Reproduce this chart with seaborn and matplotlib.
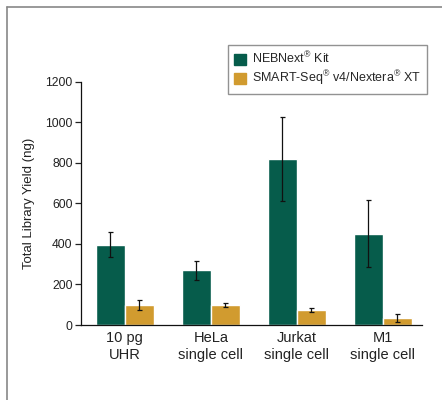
import pandas as pd
import matplotlib
matplotlib.use('Agg')
import matplotlib.pyplot as plt
import seaborn as sns
from matplotlib.lines import Line2D

# ============================================================
# DATA
# ============================================================

categories = ['10 pg\nUHR', 'HeLa\nsingle cell', 'Jurkat\nsingle cell', 'M1\nsingle cell']
kits = ['NEBNext$^{®}$ Kit', 'SMART-Seq$^{®}$ v4/Nextera$^{®}$ XT']

neb_yield = [395, 270, 820, 450]
neb_err = [62, 46, 207, 165]

smart_yield = [100, 98, 74, 35]
smart_err = [25, 11, 8, 19]

colors = ['#065c4b', '#d19b2f']

# ============================================================
# PLOT
# ============================================================

sns.set_style('ticks')
plt.rcParams['font.family'] = ['Liberation Sans', 'DejaVu Sans']
plt.rcParams['mathtext.fontset'] = 'custom'
plt.rcParams['mathtext.rm'] = 'Liberation Sans'

df = pd.DataFrame({
    'cat': categories * 2,
    'kit': [kits[0]] * 4 + [kits[1]] * 4,
    'val': neb_yield + smart_yield,
})

fig = plt.figure(figsize=(4.42, 4.0), dpi=100)
ax = fig.add_axes([0.183, 0.1875, 0.771, 0.6085])

sns.barplot(
    data=df, x='cat', y='val', hue='kit',
    palette=colors, errorbar=None, width=0.675, gap=0,
    saturation=1, ax=ax, legend=False
)

for container, errs in zip(ax.containers, [neb_err, smart_err]):
    xs = [p.get_x() + p.get_width() / 2 for p in container.patches]
    hs = [p.get_height() for p in container.patches]
    ax.errorbar(xs, hs, yerr=errs, fmt='none', ecolor='#111111',
                elinewidth=0.9, capsize=1.8, capthick=0.9)

ax.set_ylim(0, 1200)
ax.set_xlim(-0.51, 3.45)
ax.set_yticks([0, 200, 400, 600, 800, 1000, 1200])
ax.set_xlabel('')
ax.set_ylabel('Total Library Yield (ng)', fontsize=9.5, color='#222222', labelpad=7)
ax.tick_params(axis='y', labelsize=8.7, length=4, width=0.9, colors='#222222', pad=2)
ax.tick_params(axis='x', labelsize=10.5, length=0, pad=4, colors='#222222')
for lbl in ax.get_xticklabels():
    lbl.set_linespacing(1.3)
sns.despine(ax=ax)
ax.spines['left'].set_linewidth(0.9)
ax.spines['bottom'].set_linewidth(0.9)
ax.spines['left'].set_color('#111111')
ax.spines['bottom'].set_color('#111111')

handles = [plt.Rectangle((0, 0), 1, 1, color=c) for c in colors]
leg = fig.legend(
    handles, kits, loc='upper right',
    bbox_to_anchor=(427 / 442, 1 - 45 / 400), borderaxespad=0,
    fontsize=9.0, frameon=True, fancybox=False,
    handlelength=1.0, handleheight=1.0, handletextpad=0.5,
    borderpad=0.45, labelspacing=0.2
)
leg.get_frame().set_edgecolor('#777777')
leg.get_frame().set_linewidth(1.0)

# figure frame lines (top and left)
fig.add_artist(Line2D([6.5 / 442, 6.5 / 442], [0, 1 - 7 / 400],
                      transform=fig.transFigure, color='#888888', lw=1.2))
fig.add_artist(Line2D([6.5 / 442, 1], [1 - 7 / 400, 1 - 7 / 400],
                      transform=fig.transFigure, color='#888888', lw=1.2))

fig.savefig('out.png', dpi=100)
